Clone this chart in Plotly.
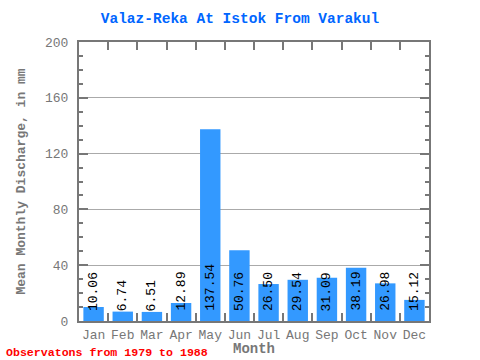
import plotly.graph_objects as go

months = ["Jan", "Feb", "Mar", "Apr", "May", "Jun", "Jul", "Aug", "Sep", "Oct", "Nov", "Dec"]
values = [10.06, 6.74, 6.51, 12.89, 137.54, 50.76, 26.50, 29.54, 31.09, 38.19, 26.98, 15.12]
labels = ["10.06", "6.74", "6.51", "12.89", "137.54", "50.76", "26.50", "29.54", "31.09", "38.19", "26.98", "15.12"]

mono = "Liberation Mono, DejaVu Sans Mono, monospace"
axis_grey = "#777777"

fig = go.Figure()
fig.add_trace(go.Bar(x=months, y=values, marker=dict(color="#3399ff", line=dict(width=0)),
                     hoverinfo="x+y"))

for m, v, t in zip(months, values, labels):
    fig.add_annotation(x=m, y=0, text=t, textangle=-90, showarrow=False,
                       yanchor="bottom", xanchor="center", yshift=8,
                       font=dict(family=mono, size=13, color="black"))

fig.add_annotation(xref="paper", yref="paper", x=-0.215, y=-0.083, xanchor="left", yanchor="top",
                   text="<b>Observatons from 1979 to 1988</b>", showarrow=False,
                   font=dict(family=mono, size=11.6, color="red"))

fig.add_annotation(xref="paper", yref="paper", x=0.5, y=-0.102, xanchor="center", yanchor="middle",
                   text="<b>Month</b>", showarrow=False,
                   font=dict(family=mono, size=14, color=axis_grey))

fig.update_layout(
    width=480, height=360,
    margin=dict(l=79, r=51, t=42, b=39),
    paper_bgcolor="white", plot_bgcolor="white",
    bargap=0.3,
    showlegend=False,
    title=dict(text="<b>Valaz-Reka At Istok From Varakul</b>", x=0.5, xanchor="center",
               y=0.95, yanchor="middle",
               font=dict(family=mono, size=14.5, color="#0066ff")),
    xaxis=dict(
        tickfont=dict(family=mono, size=13, color=axis_grey), tickangle=0,
        showline=True, linecolor=axis_grey, linewidth=2, mirror="ticks",
        ticks="inside", ticklen=8, tickwidth=2, tickcolor=axis_grey,
        tickson="boundaries", showgrid=False, automargin=False,
    ),
    yaxis=dict(
        title=dict(text="<b>Mean Monthly Discharge, in mm</b>", font=dict(family=mono, size=13, color=axis_grey), standoff=16),
        range=[0, 200], tickvals=[0, 40, 80, 120, 160, 200],
        tickfont=dict(family=mono, size=13, color=axis_grey),
        showline=True, linecolor=axis_grey, linewidth=2, mirror="ticks",
        ticks="inside", ticklen=9, tickwidth=2, tickcolor=axis_grey,
        ticklabelstandoff=6, automargin=False,
        showgrid=True, gridcolor="#aaaaaa", gridwidth=1,
        minor=dict(ticks="inside", ticklen=4, tickwidth=2, tickcolor=axis_grey, dtick=10, showgrid=False),
        zeroline=False,
    ),
)

fig.write_html("out.html", config={"displayModeBar": False},
               post_script="document.body.style.margin='0';document.body.style.padding='0';")
